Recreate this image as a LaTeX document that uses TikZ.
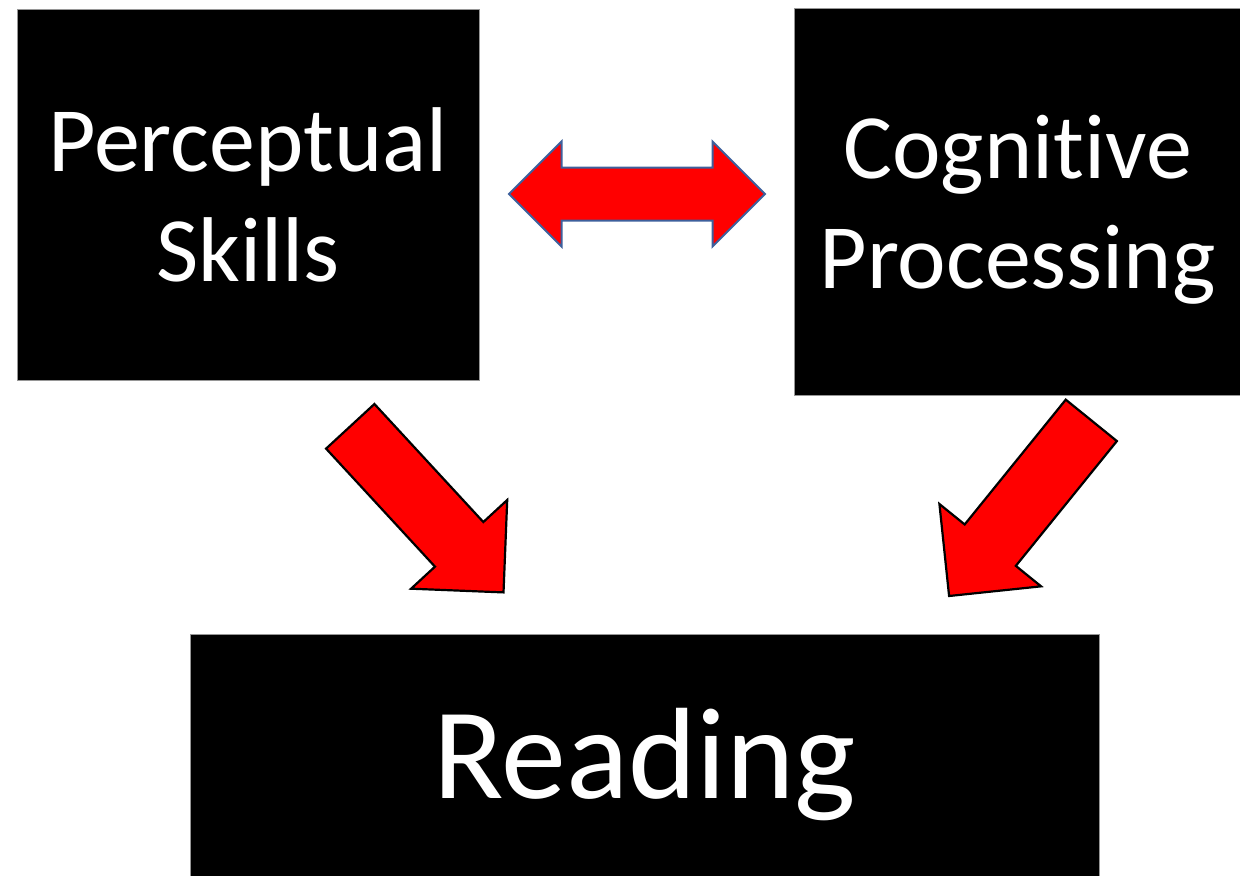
\documentclass[tikz,border=0pt]{standalone}
\usepackage{fontspec}
\setmainfont{Carlito}[Ligatures=NoCommon]
\usetikzlibrary{shapes.arrows}
\definecolor{arrowred}{RGB}{255,0,0}
\definecolor{arrowblue}{RGB}{62,96,156}
\definecolor{boxline}{RGB}{150,150,150}
\begin{document}
\begin{tikzpicture}[x=0.5pt,y=-0.5pt,
    box/.style={draw=boxline,line width=0.5pt,fill=black,text=white,align=center,inner sep=0pt},
    smalltext/.style={font=\fontsize{46}{55}\selectfont},
    bigtext/.style={font=\fontsize{65}{78}\selectfont},
    fatarrow/.style={single arrow,draw=black,line width=1.1pt,fill=arrowred,inner xsep=0pt,inner ysep=15.9pt,
        single arrow head extend=16.25pt,single arrow tip angle=90,minimum width=1pt,minimum height=113pt,anchor=tail},
    linkarrow/.style={double arrow,draw=arrowblue,line width=1pt,fill=arrowred,inner xsep=0pt,inner ysep=12.75pt,
        double arrow head extend=13pt,double arrow tip angle=90,minimum width=1pt,minimum height=128pt}]
    \useasboundingbox (0,0) rectangle (1240,875);
    \node [box,smalltext,minimum width=231pt,minimum height=185.5pt] (perc) at (248,194.5) {Perceptual\\Skills};
    \node [box,smalltext,text depth=0pt,minimum width=223.5pt,minimum height=193.5pt] (cog) at (1017.5,201.5) {Cognitive\\Processing};
    \node [box,bigtext,text depth=7pt,minimum width=454.5pt,minimum height=126pt] (read) at (644.5,760) {Reading};
    \node [linkarrow] (link) at (637,194) {};
    \node [fatarrow,rotate=-47.3] (percread) at (349.5,425.5) {};
    \node [fatarrow,rotate=-129] (cogread) at (1092,419.5) {};
\end{tikzpicture}
\end{document}
